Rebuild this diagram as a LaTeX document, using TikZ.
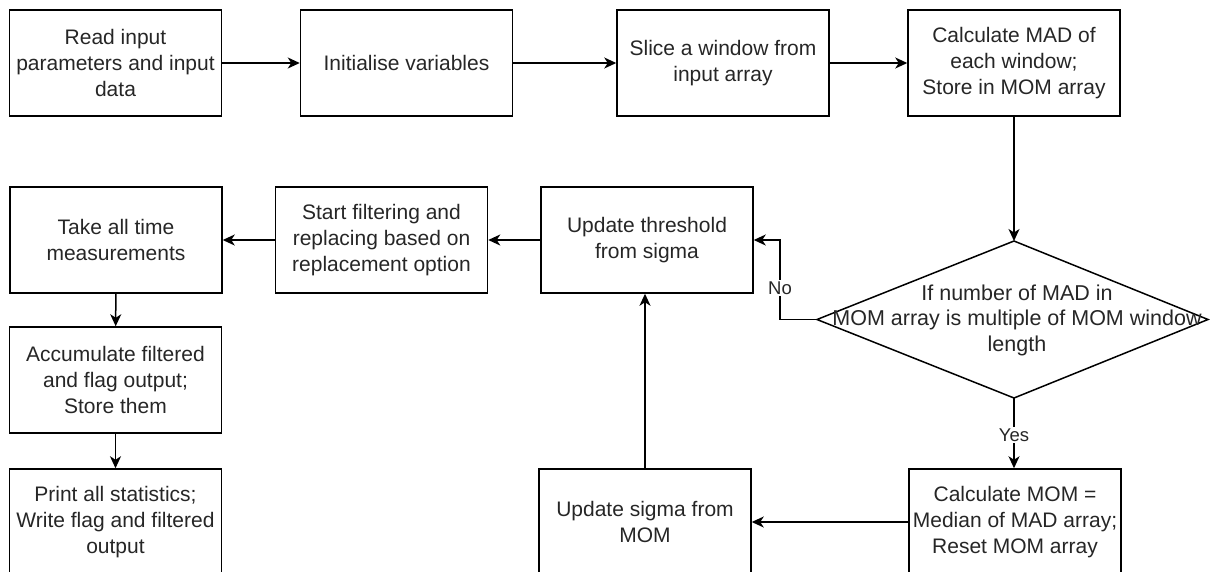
\documentclass[tikz,border=0pt]{standalone}
\usepackage{fontspec}
\setmainfont{Liberation Sans}
\usetikzlibrary{arrows.meta}
\definecolor{ink}{HTML}{262626}
\tikzset{
  x=1pt, y=-1pt,
  every node/.style={text=ink},
  stepbox/.style={draw=black, line width=1.5pt, minimum width=212pt, minimum height=106pt,
    inner sep=0pt, align=center, font=\fontsize{21}{26}\selectfont},
  flow/.style={draw=black, line width=1.5pt,
    -{Stealth[length=12pt, width=11pt, inset=3.5pt]}},
  tag/.style={fill=white, inner sep=1.5pt, font=\fontsize{18.5}{22}\selectfont},
}
\begin{document}
\begin{tikzpicture}
\useasboundingbox (0,0) rectangle (1210,571);
\clip (0,0) rectangle (1210,571);

% top row
\node[stepbox] (read)  at (115.5,63) {Read input\\parameters and input\\data};
\node[stepbox] (init)  at (406.5,63) {Initialise variables};
\node[stepbox] (slice) at (723,63)   {Slice a window from\\input array};
\node[stepbox] (mad)   at (1014,63)  {Calculate MAD of\\each window;\\Store in MOM array};

% decision
\coordinate (dt) at (1014,241);
\coordinate (dr) at (1208,319.5);
\coordinate (db) at (1014,398);
\coordinate (dl) at (817,319.5);
\draw[line width=1.5pt] (dt) -- (dr) -- (db) -- (dl) -- cycle;
\node[align=center, font=\fontsize{21.5}{25.5}\selectfont] (dec) at (1017,320)
  {If number of MAD in\\MOM array is multiple of MOM window\\length};

% middle row
\node[stepbox] (take) at (116,240)   {Take all time\\measurements};
\node[stepbox] (filt) at (381.5,240) {Start filtering and\\replacing based on\\replacement option};
\node[stepbox] (thr)  at (647,240)   {Update threshold\\from sigma};

% left column
\node[stepbox] (acc)   at (115.5,380) {Accumulate filtered\\and flag output;\\Store them};
\node[stepbox] (print) at (115.5,522) {Print all statistics;\\Write flag and filtered\\output};

% bottom right
\node[stepbox] (sigma) at (645,522)  {Update sigma from\\MOM};
\node[stepbox] (mom)   at (1015,522) {Calculate MOM =\\Median of MAD array;\\Reset MOM array};

% connectors
\draw[flow] (read) -- (init);
\draw[flow] (init) -- (slice);
\draw[flow] (slice) -- (mad);
\draw[flow] (mad.south) -- (dt);
\coordinate (nobend) at (780,319.5);
\draw[flow] (dl) -- (nobend) |- (thr.east);
\node[tag] at (780,288) {No};
\draw[flow] (db) -- (db |- mom.north);
\node[tag] at (1014,435) {Yes};
\draw[flow] (mom) -- (sigma);
\draw[flow] (sigma.north) -- (sigma.north |- thr.south);
\draw[flow] (thr) -- (filt);
\draw[flow] (filt) -- (take);
\draw[flow] (take) -- (acc);
\draw[flow] (acc) -- (print);
\end{tikzpicture}
\end{document}
